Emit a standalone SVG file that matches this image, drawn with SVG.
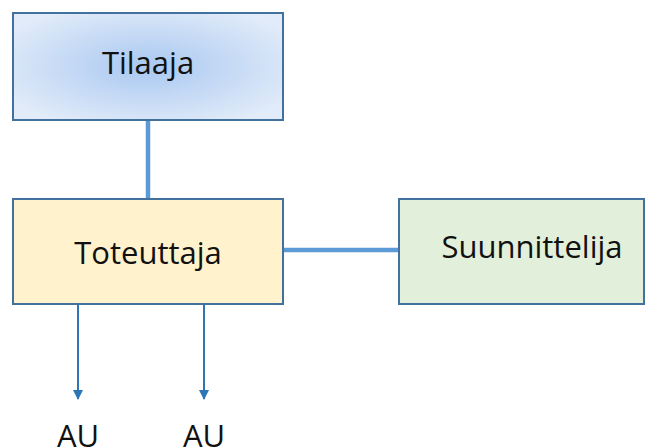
<svg xmlns="http://www.w3.org/2000/svg" width="656" height="447" viewBox="0 0 656 447">
  <defs>
    <radialGradient id="blueFill" cx="0.5" cy="0.5" r="0.6">
      <stop offset="0" stop-color="#a9c8f1"/>
      <stop offset="1" stop-color="#e1ebf9"/>
    </radialGradient>
    <marker id="arrow" viewBox="0 0 10 10" refX="9" refY="5" markerWidth="5" markerHeight="5" orient="auto" markerUnits="strokeWidth">
      <path d="M0,0 L10,5 L0,10 z" fill="#2e75b6"/>
    </marker>
  </defs>
  <style>
    .box { stroke: #41719c; stroke-width: 2; }
    .label { font-family: "Open Sans", "Liberation Sans", sans-serif; font-size: 31px; fill: #111; text-anchor: middle; }
    .link { stroke: #5b9bd5; stroke-width: 4.5; fill: none; }
    .arrow { stroke: #2e75b6; stroke-width: 2; fill: none; }
  </style>
  <rect width="656" height="447" fill="#ffffff"/>

  <g id="connectors">
    <line class="link" x1="148" y1="120" x2="148" y2="199"/>
    <line class="link" x1="283" y1="250" x2="399" y2="250"/>
    <line class="arrow" x1="78" y1="305" x2="78" y2="399" marker-end="url(#arrow)"/>
    <line class="arrow" x1="204" y1="305" x2="204" y2="399" marker-end="url(#arrow)"/>
  </g>

  <g id="tilaaja">
    <rect class="box" x="13" y="13" width="270" height="107" fill="url(#blueFill)"/>
    <text class="label" x="148" y="74">Tilaaja</text>
  </g>

  <g id="toteuttaja">
    <rect class="box" x="13" y="199" width="270" height="105" fill="#fff2cc"/>
    <text class="label" x="148" y="264">Toteuttaja</text>
  </g>

  <g id="suunnittelija">
    <rect class="box" x="399" y="199" width="245" height="105" fill="#e2efda"/>
    <text class="label" x="532" y="258">Suunnittelija</text>
  </g>

  <g id="au1">
    <text class="label" x="78" y="447">AU</text>
  </g>
  <g id="au2">
    <text class="label" x="204" y="447">AU</text>
  </g>
</svg>
